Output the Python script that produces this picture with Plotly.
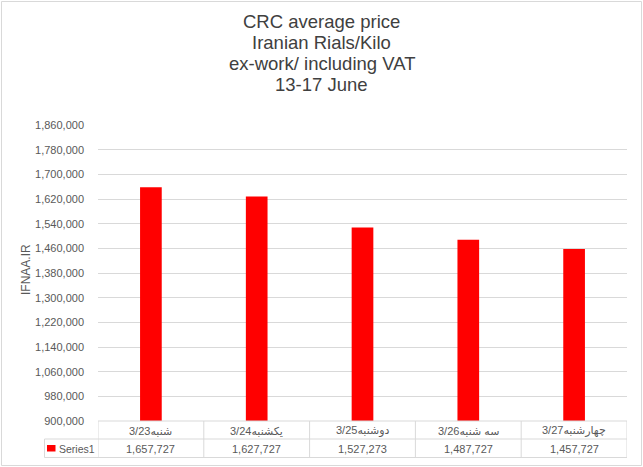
import plotly.graph_objects as go

categories = ["شنبه3/23", "یکشنبه3/24", "دوشنبه3/25", "سه شنبه3/26", "چهارشنبه3/27"]
values = [1657727, 1627727, 1527273, 1487727, 1457727]
series_name = "Series1"
title_lines = ["CRC average price", "Iranian Rials/Kilo", "ex-work/ including VAT", "13-17 June"]
y_title = "IFNAA.IR"

W, H = 643, 467
L, R, T, B = 98, 16, 125, 46
PW, PH = W - L - R, H - T - B

def px(x):
    return (x - L) / PW

def py(y):
    return (H - B - y) / PH

GRID = "#d9d9d9"
TXT = "#595959"
FONT = "Liberation Sans, Arial, DejaVu Sans, sans-serif"

fig = go.Figure()
fig.add_trace(go.Bar(x=list(range(len(categories))), y=values, name=series_name,
                     marker=dict(color="#ff0000", line=dict(width=0)), width=0.205))

shapes = []
line = dict(color=GRID, width=1)
# outer border
shapes.append(dict(type="rect", xref="paper", yref="paper", x0=px(1.5), x1=px(641.5),
                   y0=py(465.5), y1=py(1.5), line=line))
# table lines
y_top, y_mid, y_bot = 421, 439, 457.5
shapes.append(dict(type="line", xref="x", yref="paper", x0=-0.5, x1=len(categories) - 0.5,
                   y0=py(y_top), y1=py(y_top), line=line))
for yy in (y_mid, y_bot):
    shapes.append(dict(type="line", xref="paper", yref="paper", x0=px(44.5), x1=1,
                       y0=py(yy), y1=py(yy), line=line))
shapes.append(dict(type="line", xref="paper", yref="paper", x0=px(44.5), x1=px(44.5),
                   y0=py(y_mid), y1=py(y_bot), line=line))
for i in range(len(categories) + 1):
    shapes.append(dict(type="line", xref="x", yref="paper", x0=i - 0.5, x1=i - 0.5,
                       y0=py(y_top), y1=py(y_bot), line=line))
# legend key
shapes.append(dict(type="rect", xref="paper", yref="paper", x0=px(47), x1=px(55.5),
                   y0=py(451.5), y1=py(445), fillcolor="#ff0000", line=dict(width=0)))

annotations = []
for i, (c, v) in enumerate(zip(categories, values)):
    annotations.append(dict(x=i, y=py(430.5), xref="x", yref="paper", text=c, showarrow=False,
                            font=dict(size=11, color=TXT, family=FONT), yanchor="middle"))
    annotations.append(dict(x=i, y=py(448.5), xref="x", yref="paper", text=f"{v:,}", showarrow=False,
                            font=dict(size=11, color=TXT, family=FONT), yanchor="middle"))
annotations.append(dict(x=px(57), y=py(448.5), xref="paper", yref="paper", text=series_name,
                        showarrow=False, xanchor="left", yanchor="middle",
                        font=dict(size=10.5, color=TXT, family=FONT)))
for k, t in enumerate(title_lines):
    annotations.append(dict(x=px(321.5), y=py(21.5 + 21.1 * k), xref="paper", yref="paper", text=t,
                            showarrow=False, xanchor="center", yanchor="middle",
                            font=dict(size=18.5, color="#404040", family=FONT)))
annotations.append(dict(x=px(26), y=py(270), xref="paper", yref="paper", text=y_title, textangle=-90,
                        showarrow=False, xanchor="center", yanchor="middle",
                        font=dict(size=12, color=TXT, family=FONT)))

fig.update_layout(
    width=W, height=H, margin=dict(l=L, r=R, t=T, b=B),
    paper_bgcolor="white", plot_bgcolor="white", showlegend=False,
    shapes=shapes, annotations=annotations,
    xaxis=dict(range=[-0.5, len(categories) - 0.5], showticklabels=False, showgrid=False,
               zeroline=False, showline=False, ticks=""),
    yaxis=dict(range=[900000, 1860000], dtick=80000, tick0=900000, tickformat=",",
               showgrid=True, gridcolor=GRID, gridwidth=1, zeroline=False, showline=False,
               ticks="", ticklabelstandoff=13,
               tickfont=dict(size=11, color=TXT, family=FONT)),
)

fig.write_html("out.html")
